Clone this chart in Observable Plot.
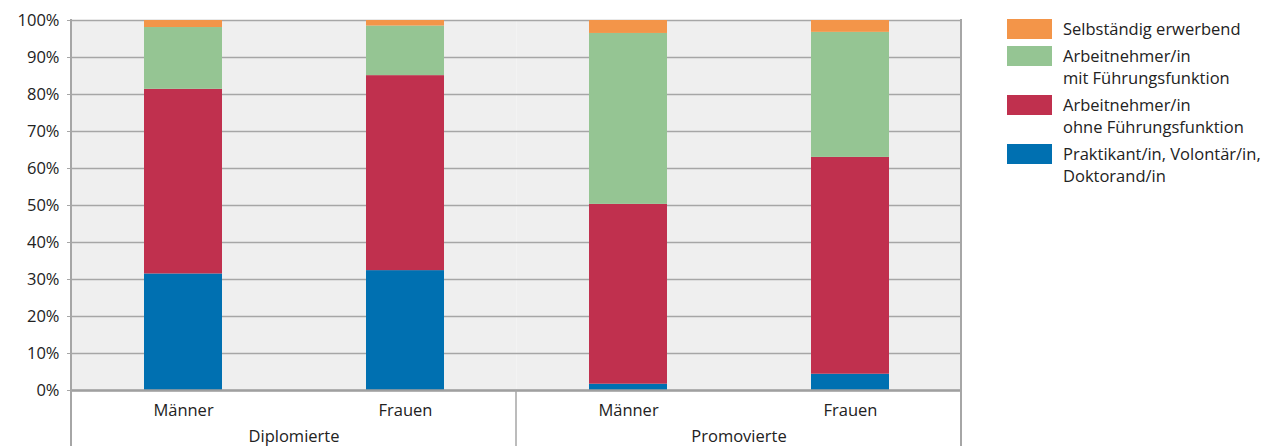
<!DOCTYPE html>
<html><head><meta charset="utf-8">
<script src="https://cdn.jsdelivr.net/npm/d3@7"></script>
<script src="https://cdn.jsdelivr.net/npm/@observablehq/plot@0.6"></script>
<style>
body{margin:0;background:#fff;font-family:"Open Sans",sans-serif;}
#wrap{position:relative;width:1275px;height:446px;overflow:hidden}
#legend{position:absolute;left:1007px;top:19px;font-size:16.5px;color:#222}
.item{display:flex;align-items:flex-start;margin-bottom:6px}
.sw{width:45px;height:20px;margin-right:11px;flex:none}
.lab{line-height:22px;margin-top:-1px;white-space:pre}
</style></head><body><div id="wrap"><div id="legend"></div></div>
<script>
// Data (percent shares)
const groupNames = ["Diplomierte", "Promovierte"];
const sexNames = ["Männer", "Frauen"];
const barGroups = ["Diplomierte", "Diplomierte", "Promovierte", "Promovierte"];
const barSexes = ["Männer", "Frauen", "Männer", "Frauen"];
const categories = [
  "Praktikant/in, Volontär/in,\nDoktorand/in",
  "Arbeitnehmer/in\nohne Führungsfunktion",
  "Arbeitnehmer/in\nmit Führungsfunktion",
  "Selbständig erwerbend"
];
const praktikant = [31.5, 32.4, 1.7, 4.4];
const ohneFuehrung = [49.9, 52.7, 48.6, 58.6];
const mitFuehrung = [16.7, 13.4, 46.2, 33.8];
const selbstaendig = [1.9, 1.5, 3.5, 3.2];
const colors = ["#0070b1", "#c0304e", "#95c593", "#f39549"];
const yTicks = [0, 10, 20, 30, 40, 50, 60, 70, 80, 90, 100];

const series = [praktikant, ohneFuehrung, mitFuehrung, selbstaendig];
const data = [];
barGroups.forEach((g, i) => {
  categories.forEach((c, j) => data.push({group: g, sex: barSexes[i], cat: c, value: series[j][i]}));
});

const plot = Plot.plot({
  width: 1275, height: 446,
  marginLeft: 70, marginRight: 314, marginTop: 20, marginBottom: 56,
  style: {fontFamily: "Open Sans", fontSize: "16.5px", color: "#222", background: "transparent", overflow: "visible"},
  fx: {domain: groupNames, padding: 0, label: null},
  x: {domain: sexNames, paddingInner: 0.65, paddingOuter: 0.325, label: null},
  y: {domain: [0, 100], label: null},
  color: {domain: categories, range: colors},
  marks: [
    Plot.frame({fill: "#efefef", stroke: null}),
    Plot.gridY(yTicks, {stroke: "#a6a6a6", strokeOpacity: 1, strokeWidth: 1.5}),
    Plot.barY(data, {fx: "group", x: "sex", y: "value", fill: "cat", order: categories}),
    Plot.axisY(yTicks, {tickFormat: d => d + "%", tickSize: 4, tickPadding: 8, stroke: "#a6a6a6", label: null}),
    Plot.ruleY([0], {stroke: "#a0a0a0", strokeWidth: 2.5}),
    Plot.axisX({tickSize: 0, tickPadding: 14, label: null}),
    Plot.axisFx({anchor: "bottom", tickSize: 0, tickPadding: 40, label: null})
  ]
});

// separators drawn from the library's scales
const fx = plot.scale("fx"), ys = plot.scale("y");
const g = d3.select(plot).append("g").attr("stroke", "#a6a6a6");
const xL = fx.apply(groupNames[0]);
const xM = fx.apply(groupNames[1]);
const xR = fx.apply(groupNames[1]) + fx.bandwidth;
g.append("line").attr("x1", xL).attr("x2", xL).attr("y1", ys.apply(100) - 1).attr("y2", 446).attr("stroke-width", 2);
g.append("line").attr("x1", xR).attr("x2", xR).attr("y1", ys.apply(100) - 1).attr("y2", 446).attr("stroke-width", 2);
g.append("line").attr("x1", xM).attr("x2", xM).attr("y1", ys.apply(0)).attr("y2", 446).attr("stroke-width", 1.5);

document.getElementById("wrap").prepend(plot);

// legend
const legend = d3.select("#legend");
const legendOrder = [3, 2, 1, 0];
legendOrder.forEach(i => {
  const it = legend.append("div").attr("class", "item");
  it.append("div").attr("class", "sw").style("background", colors[i]);
  it.append("div").attr("class", "lab").text(categories[i]);
});
</script>
</body></html>
